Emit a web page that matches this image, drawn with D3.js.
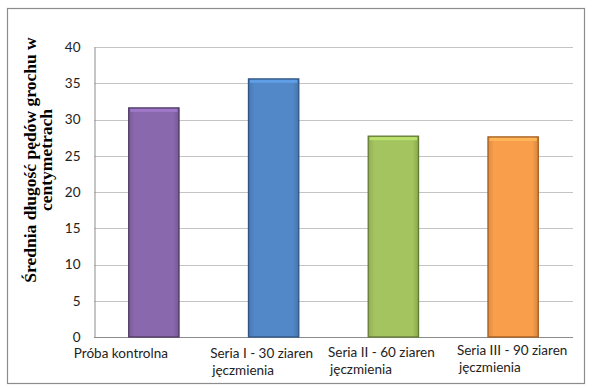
<!DOCTYPE html>
<html>
<head>
<meta charset="utf-8">
<script src="https://cdn.jsdelivr.net/npm/d3@7"></script>
<style>
  body { margin: 0; background: #fff; }
  svg { display: block; }
  .tick-label { font-family: Lato, "Open Sans", sans-serif; font-size: 13.5px; fill: #222; }
</style>
</head>
<body>
<script>
(function (d3) {
  "use strict";

  /***** Dane *****/
  var categories = [
    ["Próba kontrolna"],
    ["Seria I - 30 ziaren", "jęczmienia"],
    ["Seria II - 60 ziaren", "jęczmienia"],
    ["Seria III - 90 ziaren", "jęczmienia"]
  ];
  var values = [31.6, 35.6, 27.7, 27.6];
  var yTicks = [0, 5, 10, 15, 20, 25, 30, 35, 40];
  var axisTitle = ["Średnia długość pędów grochu w", "centymetrach"];

  /***** Wygląd *****/
  var barColors = ["#8a68ad", "#5288c8", "#a3c45f", "#f99e4b"];
  var barEdges = ["#4f3a66", "#2f5583", "#627a32", "#a35d1f"];
  // Excel placed its wrapped labels a little off the band centres
  var labelShift = [[-33, 0], [-12, 0], [-12, -1], [-1, -3]];

  var width = 592, height = 391;
  var plot = { left: 94, right: 573, top: 47, bottom: 337 };

  var svg = d3.select("body").append("svg")
      .attr("width", width)
      .attr("height", height);

  var defs = svg.append("defs");
  barColors.forEach(function (c, i) {
    var g = defs.append("linearGradient")
        .attr("id", "bar" + i)
        .attr("x1", 0).attr("x2", 1).attr("y1", 0).attr("y2", 0);
    g.append("stop").attr("offset", "0%").attr("stop-color", d3.color(c).darker(0.35));
    g.append("stop").attr("offset", "12%").attr("stop-color", c);
    g.append("stop").attr("offset", "88%").attr("stop-color", c);
    g.append("stop").attr("offset", "100%").attr("stop-color", d3.color(c).darker(0.45));
  });

  // ramka wykresu
  svg.append("rect")
      .attr("x", 7.5).attr("y", 8.5)
      .attr("width", 577).attr("height", 375)
      .attr("fill", "#fff")
      .attr("stroke", "#8c8c8c")
      .attr("stroke-width", 1.2);

  /***** Skale *****/
  var x = d3.scaleBand()
      .domain(d3.range(categories.length))
      .range([plot.left, plot.right])
      .paddingInner(0.58)
      .paddingOuter(0.29);

  var y = d3.scaleLinear()
      .domain([0, 40])
      .range([plot.bottom, plot.top]);

  // linie siatki
  svg.append("g")
    .selectAll("line")
    .data(yTicks)
    .join("line")
      .attr("x1", plot.left).attr("x2", plot.right)
      .attr("y1", function (d) { return Math.round(y(d)) + 0.5; })
      .attr("y2", function (d) { return Math.round(y(d)) + 0.5; })
      .attr("stroke", function (d) { return d === 0 ? "#8c8c8c" : "#c4c4c4"; })
      .attr("stroke-width", 1);

  // oś Y
  var yAxis = d3.axisLeft(y).tickValues(yTicks).tickSize(0).tickPadding(14);
  var yG = svg.append("g")
      .attr("transform", "translate(" + (plot.left + 0.5) + ",0)")
      .call(yAxis);
  yG.select(".domain").attr("stroke", "#8c8c8c");
  yG.selectAll("text").attr("class", "tick-label").attr("font-family", null).attr("font-size", null);

  /***** Słupki *****/
  svg.append("g")
    .selectAll("rect")
    .data(values)
    .join("rect")
      .attr("x", function (d, i) { return x(i); })
      .attr("y", function (d) { return y(d); })
      .attr("width", x.bandwidth())
      .attr("height", function (d) { return y(0) - y(d); })
      .attr("fill", function (d, i) { return "url(#bar" + i + ")"; })
      .attr("stroke", function (d, i) { return barEdges[i]; })
      .attr("stroke-width", 1.3);

  // jaśniejszy skos na górze słupka
  svg.append("g")
    .selectAll("rect")
    .data(values)
    .join("rect")
      .attr("x", function (d, i) { return x(i) + 1.5; })
      .attr("y", function (d) { return y(d) + 1; })
      .attr("width", x.bandwidth() - 3)
      .attr("height", 3)
      .attr("fill", function (d, i) { return d3.color(barColors[i]).brighter(0.4); });

  /***** Etykiety kategorii *****/
  var labels = svg.append("g")
    .selectAll("text")
    .data(categories)
    .join("text")
      .attr("class", "tick-label")
      .attr("y", function (d, i) { return 358 + labelShift[i][1]; });

  labels.each(function (lines, i) {
    var t = d3.select(this);
    lines.forEach(function (line, k) {
      t.append("tspan")
          .attr("dy", k === 0 ? 0 : 17)
          .text(line);
    });
    // szerokość pierwszej linii wyznacza lewy brzeg bloku
    var first = t.select("tspan").node().getComputedTextLength();
    var left = x(i) + x.bandwidth() / 2 + labelShift[i][0] - first / 2;
    t.selectAll("tspan").attr("x", function (d, k) { return left + (k === 0 ? 0 : 2); });
  });

  /***** Tytuł osi Y *****/
  var title = svg.append("text")
      .attr("transform", "translate(36,160) rotate(-90)")
      .attr("text-anchor", "middle")
      .attr("font-family", "'Liberation Serif', 'Times New Roman', serif")
      .attr("font-weight", "bold")
      .attr("font-size", "17.5px")
      .attr("fill", "#000");

  axisTitle.forEach(function (line, k) {
    title.append("tspan")
        .attr("x", 0)
        .attr("dy", k === 0 ? 0 : 16)
        .text(line);
  });

})(d3);
</script>
</body>
</html>
